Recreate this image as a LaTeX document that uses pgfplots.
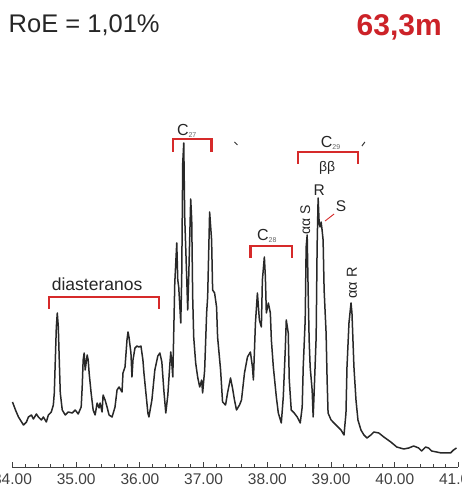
\documentclass[border=0pt]{standalone}
\usepackage{fontspec}
\setmainfont{Liberation Sans}
\usepackage{pgfplots}
\pgfplotsset{compat=1.18}

\definecolor{roered}{RGB}{204,34,40}
\definecolor{brkred}{RGB}{214,42,42}
\definecolor{trace}{RGB}{40,40,40}

% TIC trace (m/z 217), retention time in minutes, abundance in arbitrary units
\pgfplotstableread{
t       a
34.000  65
34.047  57
34.094  50
34.172  42
34.219  45
34.250  50
34.297  52
34.328  48
34.375  53
34.406  50
34.453  47
34.484  50
34.531  45
34.563  52
34.609  55
34.641  62
34.656  74
34.672  107
34.688  140
34.703  154
34.719  140
34.734  107
34.750  74
34.781  57
34.828  52
34.875  55
34.938  54
34.984  57
35.031  53
35.078  60
35.094  80
35.109  107
35.125  114
35.141  97
35.172  112
35.188  107
35.203  94
35.234  74
35.266  57
35.297  52
35.328  64
35.359  59
35.375  64
35.406  55
35.422  72
35.453  67
35.484  60
35.516  52
35.563  50
35.609  60
35.641  77
35.672  80
35.719  75
35.734  94
35.766  100
35.797  127
35.813  135
35.828  130
35.859  114
35.875  90
35.891  107
35.922  119
35.953  121
35.984  120
36.016  121
36.047  107
36.063  94
36.094  74
36.125  54
36.141  50
36.188  67
36.234  97
36.281  111
36.313  114
36.344  105
36.375  77
36.406  54
36.438  72
36.469  102
36.484  115
36.500  104
36.516  90
36.547  184
36.578  224
36.594  187
36.609  180
36.641  144
36.656  190
36.672  304
36.688  324
36.703  250
36.734  190
36.750  157
36.766  190
36.797  268
36.813  247
36.828  170
36.844  130
36.875  104
36.906  90
36.938  80
36.969  87
36.984  74
37.016  97
37.047  154
37.063  170
37.094  255
37.125  227
37.141  177
37.172  174
37.203  160
37.219  130
37.266  97
37.297  65
37.344  62
37.375  74
37.422  89
37.453  79
37.484  67
37.516  57
37.563  62
37.594  67
37.641  94
37.688  110
37.734  115
37.766  100
37.781  87
37.813  144
37.844  174
37.875  147
37.906  140
37.922  187
37.953  210
37.969  190
37.984  154
38.016  164
38.047  154
38.063  127
38.094  100
38.141  70
38.172  54
38.219  44
38.250  70
38.281  117
38.297  147
38.328  134
38.344  87
38.375  57
38.422  54
38.469  50
38.516  44
38.547  60
38.563  100
38.594  147
38.609  220
38.625  232
38.641  174
38.656  127
38.672  100
38.703  77
38.719  50
38.734  74
38.766  130
38.781  220
38.797  269
38.813  244
38.828  240
38.844  245
38.859  237
38.875  227
38.891  177
38.922  134
38.938  87
38.953  54
39.000  47
39.078  42
39.156  37
39.203  32
39.234  54
39.250  100
39.281  144
39.313  164
39.328  154
39.359  100
39.391  67
39.422  47
39.469  37
39.516  32
39.563  29
39.625  32
39.672  35
39.750  34
39.828  30
39.938  25
40.031  20
40.141  18
40.219  19
40.297  21
40.375  19
40.422  16
40.484  20
40.531  19
40.578  16
40.656  15
40.734  14
40.813  14
40.875  14
40.922  17
40.969  19
}\chromdata

\newcommand{\Cn}[1]{C\raisebox{-1.2pt}{\fontsize{7}{8}\selectfont\color{black!60}#1}}

\begin{document}
\begin{tikzpicture}
\path[use as bounding box, clip] (0pt,0pt) rectangle (462pt,493pt);

\begin{axis}[
  at={(12.5pt,26pt)}, anchor=south west,
  scale only axis, width=446pt, height=340pt,
  xmin=34, xmax=41, ymin=0, ymax=340,
  axis x line*=bottom, axis y line=none,
  clip=false,
  axis line style={black!75, line width=0.9pt},
  xtick={34,...,41}, minor x tick num=4,
  tick align=inside,
  major tick length=5pt, minor tick length=3pt,
  every tick/.style={black!75, line width=0.9pt},
  xticklabel style={font=\fontsize{15.5}{18}\selectfont, text=black!75, yshift=-3pt},
  /pgf/number format/.cd, fixed, fixed zerofill, precision=2, assume math mode=true,
]
\addplot[trace, line width=1.5pt, line join=round] table[x=t, y=a] {\chromdata};

% compound group brackets
\draw[brkred, line width=2.3pt] (axis cs:34.578,158) -- (axis cs:34.578,170) -- (axis cs:36.297,170) -- (axis cs:36.297,158);
\draw[brkred, line width=2.3pt] (axis cs:36.516,315) -- (axis cs:36.516,328) -- (axis cs:37.125,328) -- (axis cs:37.125,315);
\draw[brkred, line width=2.3pt] (axis cs:37.734,209) -- (axis cs:37.734,221) -- (axis cs:38.391,221) -- (axis cs:38.391,209);
\draw[brkred, line width=2.3pt] (axis cs:38.484,303) -- (axis cs:38.484,315) -- (axis cs:39.422,315) -- (axis cs:39.422,303);

\node[anchor=base, inner sep=0, font=\fontsize{17.5}{20}\selectfont, text=black!85] at (axis cs:35.328,176) {diasteranos};
\node[anchor=base, inner sep=0, font=\fontsize{16}{19}\selectfont, text=black!85] at (axis cs:36.734,331) {\Cn{27}};
\node[anchor=base, inner sep=0, font=\fontsize{16}{19}\selectfont, text=black!85] at (axis cs:37.992,226) {\Cn{28}};
\node[anchor=base, inner sep=0, font=\fontsize{16}{19}\selectfont, text=black!85] at (axis cs:38.992,319) {\Cn{29}};

% sterane isomer labels
\node[inner sep=0, font=\fontsize{14}{16}\selectfont, text=black!85] at (axis cs:38.938,299) {ββ};
\node[anchor=base, inner sep=0, font=\fontsize{15.5}{18}\selectfont, text=black!85] at (axis cs:38.813,271) {R};
\node[anchor=base, inner sep=0, font=\fontsize{15.5}{18}\selectfont, text=black!85] at (axis cs:39.156,255) {S};
\draw[brkred, line width=0.9pt] (axis cs:38.906,246) -- (axis cs:39.047,253);
\node[rotate=90, inner sep=0, font=\fontsize{14}{16}\selectfont, text=black!85] at (axis cs:38.594,247) {αα S};
\node[rotate=90, inner sep=0, font=\fontsize{14.5}{16}\selectfont, text=black!85] at (axis cs:39.328,184) {αα R};

% small stray marks
\draw[black!80, line width=1pt] (axis cs:37.484,325) -- (axis cs:37.531,322);
\draw[black!80, line width=1pt] (axis cs:39.484,321) -- (axis cs:39.531,325);
\end{axis}

\node[anchor=base west, inner sep=0, font=\fontsize{25.5}{30}\selectfont, text=black!85] at (8.5pt,460pt) {RoE = 1,01\%};
\node[anchor=base east, inner sep=0, font=\fontsize{30}{36}\selectfont\bfseries, text=roered] at (442pt,457pt) {63,3m};
\end{tikzpicture}
\end{document}
